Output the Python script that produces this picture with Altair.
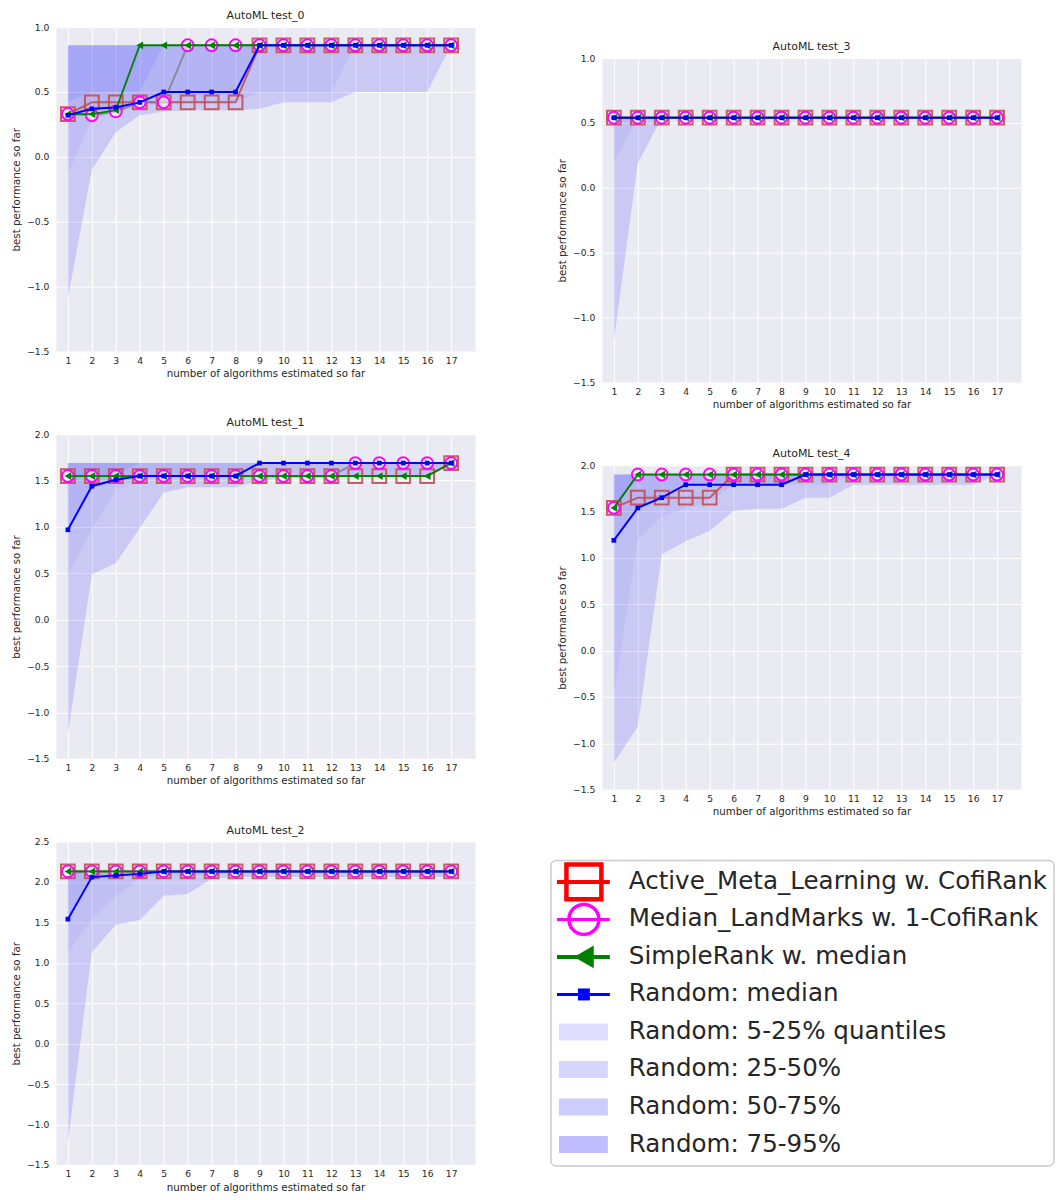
import altair as alt
import pandas as pd

FONT = "DejaVu Sans"

# ---------------- data ----------------
STEPS = [1, 2, 3, 4, 5, 6, 7, 8, 9, 10, 11, 12, 13, 14, 15, 16, 17]

# AutoML test_0
ACTIVE_0 = [0.33, 0.42, 0.42, 0.42, 0.42, 0.42, 0.42, 0.42, 0.86, 0.86, 0.86, 0.86, 0.86, 0.86, 0.86, 0.86, 0.86]
LANDM_0 = [0.33, 0.32, 0.35, 0.42, 0.42, 0.86, 0.86, 0.86, 0.86, 0.86, 0.86, 0.86, 0.86, 0.86, 0.86, 0.86, 0.86]
SIMPLE_0 = [0.33, 0.33, 0.36, 0.86, 0.86, 0.86, 0.86, 0.86, 0.86, 0.86, 0.86, 0.86, 0.86, 0.86, 0.86, 0.86, 0.86]
MEDIAN_0 = [0.32, 0.37, 0.38, 0.42, 0.50, 0.50, 0.50, 0.50, 0.86, 0.86, 0.86, 0.86, 0.86, 0.86, 0.86, 0.86, 0.86]
Q5_0 = [-1.09, -0.10, 0.19, 0.32, 0.35, 0.36, 0.36, 0.36, 0.37, 0.42, 0.42, 0.42, 0.50, 0.50, 0.50, 0.50, 0.86]
Q25_0 = [-0.13, 0.28, 0.35, 0.37, 0.42, 0.42, 0.42, 0.42, 0.50, 0.50, 0.50, 0.50, 0.86, 0.86, 0.86, 0.86, 0.86]
Q75_0 = [0.42, 0.50, 0.50, 0.50, 0.86, 0.86, 0.86, 0.86, 0.86, 0.86, 0.86, 0.86, 0.86, 0.86, 0.86, 0.86, 0.86]
Q95_0 = [0.86, 0.86, 0.86, 0.86, 0.86, 0.86, 0.86, 0.86, 0.86, 0.86, 0.86, 0.86, 0.86, 0.86, 0.86, 0.86, 0.86]

# AutoML test_3
ACTIVE_3 = [0.54, 0.54, 0.54, 0.54, 0.54, 0.54, 0.54, 0.54, 0.54, 0.54, 0.54, 0.54, 0.54, 0.54, 0.54, 0.54, 0.54]
LANDM_3 = [0.54, 0.54, 0.54, 0.54, 0.54, 0.54, 0.54, 0.54, 0.54, 0.54, 0.54, 0.54, 0.54, 0.54, 0.54, 0.54, 0.54]
SIMPLE_3 = [0.54, 0.54, 0.54, 0.54, 0.54, 0.54, 0.54, 0.54, 0.54, 0.54, 0.54, 0.54, 0.54, 0.54, 0.54, 0.54, 0.54]
MEDIAN_3 = [0.54, 0.54, 0.54, 0.54, 0.54, 0.54, 0.54, 0.54, 0.54, 0.54, 0.54, 0.54, 0.54, 0.54, 0.54, 0.54, 0.54]
Q5_3 = [-1.18, 0.19, 0.54, 0.54, 0.54, 0.54, 0.54, 0.54, 0.54, 0.54, 0.54, 0.54, 0.54, 0.54, 0.54, 0.54, 0.54]
Q25_3 = [0.20, 0.54, 0.54, 0.54, 0.54, 0.54, 0.54, 0.54, 0.54, 0.54, 0.54, 0.54, 0.54, 0.54, 0.54, 0.54, 0.54]
Q75_3 = [0.54, 0.54, 0.54, 0.54, 0.54, 0.54, 0.54, 0.54, 0.54, 0.54, 0.54, 0.54, 0.54, 0.54, 0.54, 0.54, 0.54]
Q95_3 = [0.54, 0.54, 0.54, 0.54, 0.54, 0.54, 0.54, 0.54, 0.54, 0.54, 0.54, 0.54, 0.54, 0.54, 0.54, 0.54, 0.54]

# AutoML test_1
ACTIVE_1 = [1.55, 1.55, 1.55, 1.55, 1.55, 1.55, 1.55, 1.55, 1.55, 1.55, 1.55, 1.55, 1.55, 1.55, 1.55, 1.55, 1.69]
LANDM_1 = [1.55, 1.55, 1.55, 1.55, 1.55, 1.55, 1.55, 1.55, 1.55, 1.55, 1.55, 1.55, 1.69, 1.69, 1.69, 1.69, 1.69]
SIMPLE_1 = [1.55, 1.55, 1.55, 1.55, 1.55, 1.55, 1.55, 1.55, 1.55, 1.55, 1.55, 1.55, 1.55, 1.55, 1.55, 1.55, 1.69]
MEDIAN_1 = [0.97, 1.44, 1.51, 1.55, 1.55, 1.55, 1.55, 1.55, 1.69, 1.69, 1.69, 1.69, 1.69, 1.69, 1.69, 1.69, 1.69]
Q5_1 = [-1.23, 0.49, 0.61, 0.99, 1.37, 1.43, 1.43, 1.43, 1.50, 1.53, 1.53, 1.53, 1.55, 1.55, 1.55, 1.55, 1.69]
Q25_1 = [0.49, 0.97, 1.40, 1.52, 1.55, 1.55, 1.55, 1.55, 1.55, 1.55, 1.55, 1.55, 1.55, 1.55, 1.55, 1.55, 1.69]
Q75_1 = [1.55, 1.55, 1.55, 1.69, 1.69, 1.69, 1.69, 1.69, 1.69, 1.69, 1.69, 1.69, 1.69, 1.69, 1.69, 1.69, 1.69]
Q95_1 = [1.69, 1.69, 1.69, 1.69, 1.69, 1.69, 1.69, 1.69, 1.69, 1.69, 1.69, 1.69, 1.69, 1.69, 1.69, 1.69, 1.69]

# AutoML test_4
ACTIVE_4 = [1.54, 1.65, 1.65, 1.65, 1.65, 1.90, 1.90, 1.90, 1.90, 1.90, 1.90, 1.90, 1.90, 1.90, 1.90, 1.90, 1.90]
LANDM_4 = [1.54, 1.90, 1.90, 1.90, 1.90, 1.90, 1.90, 1.90, 1.90, 1.90, 1.90, 1.90, 1.90, 1.90, 1.90, 1.90, 1.90]
SIMPLE_4 = [1.54, 1.90, 1.90, 1.90, 1.90, 1.90, 1.90, 1.90, 1.90, 1.90, 1.90, 1.90, 1.90, 1.90, 1.90, 1.90, 1.90]
MEDIAN_4 = [1.19, 1.54, 1.65, 1.79, 1.79, 1.79, 1.79, 1.79, 1.90, 1.90, 1.90, 1.90, 1.90, 1.90, 1.90, 1.90, 1.90]
Q5_4 = [-1.21, -0.82, 1.04, 1.18, 1.29, 1.51, 1.53, 1.53, 1.65, 1.65, 1.79, 1.79, 1.79, 1.79, 1.79, 1.79, 1.90]
Q25_4 = [-0.50, 1.20, 1.45, 1.53, 1.60, 1.79, 1.79, 1.79, 1.79, 1.79, 1.90, 1.90, 1.90, 1.90, 1.90, 1.90, 1.90]
Q75_4 = [1.54, 1.90, 1.90, 1.90, 1.90, 1.90, 1.90, 1.90, 1.90, 1.90, 1.90, 1.90, 1.90, 1.90, 1.90, 1.90, 1.90]
Q95_4 = [1.90, 1.90, 1.90, 1.90, 1.90, 1.90, 1.90, 1.90, 1.90, 1.90, 1.90, 1.90, 1.90, 1.90, 1.90, 1.90, 1.90]

# AutoML test_2
ACTIVE_2 = [2.13, 2.13, 2.13, 2.13, 2.13, 2.13, 2.13, 2.13, 2.13, 2.13, 2.13, 2.13, 2.13, 2.13, 2.13, 2.13, 2.13]
LANDM_2 = [2.13, 2.13, 2.13, 2.13, 2.13, 2.13, 2.13, 2.13, 2.13, 2.13, 2.13, 2.13, 2.13, 2.13, 2.13, 2.13, 2.13]
SIMPLE_2 = [2.13, 2.13, 2.13, 2.13, 2.13, 2.13, 2.13, 2.13, 2.13, 2.13, 2.13, 2.13, 2.13, 2.13, 2.13, 2.13, 2.13]
MEDIAN_2 = [1.54, 2.06, 2.08, 2.10, 2.13, 2.13, 2.13, 2.13, 2.13, 2.13, 2.13, 2.13, 2.13, 2.13, 2.13, 2.13, 2.13]
Q5_2 = [-1.22, 1.13, 1.47, 1.53, 1.83, 1.85, 2.04, 2.06, 2.06, 2.06, 2.06, 2.06, 2.06, 2.06, 2.06, 2.06, 2.06]
Q25_2 = [1.13, 1.53, 1.82, 2.05, 2.08, 2.08, 2.09, 2.13, 2.13, 2.13, 2.13, 2.13, 2.13, 2.13, 2.13, 2.13, 2.13]
Q75_2 = [2.06, 2.13, 2.13, 2.13, 2.13, 2.13, 2.13, 2.13, 2.13, 2.13, 2.13, 2.13, 2.13, 2.13, 2.13, 2.13, 2.13]
Q95_2 = [2.13, 2.13, 2.13, 2.13, 2.13, 2.13, 2.13, 2.13, 2.13, 2.13, 2.13, 2.13, 2.13, 2.13, 2.13, 2.13, 2.13]

YTICKS_A = [-1.5, -1.0, -0.5, 0.0, 0.5, 1.0]
YTICKS_B = [-1.5, -1.0, -0.5, 0.0, 0.5, 1.0, 1.5, 2.0]
YTICKS_C = [-1.5, -1.0, -0.5, 0.0, 0.5, 1.0, 1.5, 2.0, 2.5]

LEGEND_LABELS = [
    "Active_Meta_Learning w. CofiRank",
    "Median_LandMarks w. 1-CofiRank",
    "SimpleRank w. median",
    "Random: median",
    "Random: 5-25% quantiles",
    "Random: 25-50%",
    "Random: 50-75%",
    "Random: 75-95%",
]

XTITLE = "number of algorithms estimated so far"
YTITLE = "best performance so far"

# ---------------- styles ----------------
RED = "#C44E52"
MAGENTA = "#FF00FF"
GRAYLINE = "#8A8296"
GREEN = "#008000"
BLUE = "#0000FF"
BAND_OPACITY = [0.14, 0.18, 0.23, 0.29]
LEG_BAND_OPACITY = [0.13, 0.16, 0.20, 0.25]
W, H = 420, 325


def panel(title, active, landm, simple, median, q5, q25, q75, q95, ydom, yticks, h=H):
    df = pd.DataFrame({
        "x": STEPS, "active": active, "landm": landm, "simple": simple,
        "median": median, "q5": q5, "q25": q25, "q75": q75, "q95": q95,
    })
    base = alt.Chart(df)
    xs = alt.X("x:Q", scale=alt.Scale(domain=[0.5, 18], nice=False, zero=False),
               axis=alt.Axis(values=STEPS, format="d", title=XTITLE))

    def ys(field):
        return alt.Y(f"{field}:Q", scale=alt.Scale(domain=ydom, nice=False, zero=False),
                     axis=alt.Axis(values=yticks, format=".1f", title=YTITLE))

    layers = []
    bands = [("q5", "q25"), ("q25", "median"), ("median", "q75"), ("q75", "q95")]
    for (lo, hi), op in zip(bands, BAND_OPACITY):
        layers.append(base.mark_area(color=BLUE, opacity=op, interpolate="linear")
                      .encode(x=xs, y=ys(lo), y2=alt.Y2(f"{hi}:Q")))
    layers.append(base.mark_line(color=RED, strokeWidth=2, opacity=0.9).encode(x=xs, y=ys("active")))
    layers.append(base.mark_point(shape="square", size=190, filled=False, color=RED,
                                  strokeWidth=2, opacity=0.9).encode(x=xs, y=ys("active")))
    layers.append(base.mark_line(color=GRAYLINE, strokeWidth=2, opacity=0.9).encode(x=xs, y=ys("landm")))
    layers.append(base.mark_point(shape="circle", size=140, fill="white", fillOpacity=0.55,
                                  stroke=MAGENTA, strokeWidth=2, opacity=1).encode(x=xs, y=ys("landm")))
    layers.append(base.mark_line(color=GREEN, strokeWidth=1.8).encode(x=xs, y=ys("simple")))
    layers.append(base.mark_point(shape="triangle-left", size=60, filled=True, color=GREEN,
                                  opacity=1).encode(x=xs, y=ys("simple")))
    layers.append(base.mark_line(color=BLUE, strokeWidth=2).encode(x=xs, y=ys("median")))
    layers.append(base.mark_point(shape="square", size=22, filled=True, color=BLUE,
                                  opacity=1).encode(x=xs, y=ys("median")))
    return alt.layer(*layers).properties(width=W, height=h, title=title)


def spacer(w, h):
    d = pd.DataFrame({"v": [0]})
    return (alt.Chart(d).mark_point(opacity=0, size=0)
            .encode(x=alt.value(0), y=alt.value(0))
            .properties(width=w, height=h,
                        view=alt.ViewBackground(fill="transparent", stroke="transparent")))


def legend_chart():
    ldf = pd.DataFrame({"label": LEGEND_LABELS})
    yl = alt.Y("label:N", sort=LEGEND_LABELS,
               scale=alt.Scale(type="point", domain=LEGEND_LABELS, padding=0.57), axis=None)
    # legend frame (a decoration, drawn in pixels of the legend view)
    frame = alt.Chart(pd.DataFrame({"f": [0]})).mark_rect(
        fill="white", stroke="#CCCCCC", strokeWidth=1.5, cornerRadius=5
    ).encode(x=alt.value(-51), x2=alt.value(453), y=alt.value(0), y2=alt.value(306))
    line_styles = [
        (LEGEND_LABELS[0], "#FF0000", 4, dict(shape="square", size=1225, filled=False, strokeWidth=4.5)),
        (LEGEND_LABELS[1], MAGENTA, 3, dict(shape="circle", size=900, filled=False, strokeWidth=3.5)),
        (LEGEND_LABELS[2], GREEN, 4, dict(shape="triangle-left", size=520, filled=True)),
        (LEGEND_LABELS[3], BLUE, 3, dict(shape="square", size=144, filled=True)),
    ]
    layers = [frame]
    for lab, col, lw, mk in line_styles:
        lb = alt.Chart(ldf).transform_filter(alt.datum.label == lab)
        layers.append(lb.mark_rule(color=col, strokeWidth=lw)
                      .encode(x=alt.value(-45), x2=alt.value(8), y=yl))
        layers.append(lb.mark_point(color=col, opacity=1, **mk).encode(x=alt.value(-18), y=yl))
    for lab, op in zip(LEGEND_LABELS[4:], LEG_BAND_OPACITY):
        lb = alt.Chart(ldf).transform_filter(alt.datum.label == lab)
        layers.append(lb.mark_rule(color=BLUE, opacity=op, strokeWidth=17, strokeCap="butt")
                      .encode(x=alt.value(-43), x2=alt.value(6), y=yl))
    layers.append(alt.Chart(ldf).mark_text(align="left", baseline="middle", fontSize=24.6,
                                           font=FONT, color="#262626")
                  .encode(x=alt.value(27), y=yl, text="label:N"))
    return alt.layer(*layers).properties(
        width=440, height=306,
        view=alt.ViewBackground(fill="transparent", stroke="transparent"))


t0 = panel("AutoML test_0", ACTIVE_0, LANDM_0, SIMPLE_0, MEDIAN_0, Q5_0, Q25_0, Q75_0, Q95_0, [-1.5, 1.0], YTICKS_A)
t1 = panel("AutoML test_1", ACTIVE_1, LANDM_1, SIMPLE_1, MEDIAN_1, Q5_1, Q25_1, Q75_1, Q95_1, [-1.5, 2.0], YTICKS_B)
t2 = panel("AutoML test_2", ACTIVE_2, LANDM_2, SIMPLE_2, MEDIAN_2, Q5_2, Q25_2, Q75_2, Q95_2, [-1.5, 2.5], YTICKS_C, h=324)
t3 = panel("AutoML test_3", ACTIVE_3, LANDM_3, SIMPLE_3, MEDIAN_3, Q5_3, Q25_3, Q75_3, Q95_3, [-1.5, 1.0], YTICKS_A)
t4 = panel("AutoML test_4", ACTIVE_4, LANDM_4, SIMPLE_4, MEDIAN_4, Q5_4, Q25_4, Q75_4, Q95_4, [-1.5, 2.0], YTICKS_B)

left = alt.vconcat(t0, t1, t2, spacing=83, bounds="flush")
right_inner = alt.vconcat(t3, t4, legend_chart(), spacing=37)
right = alt.vconcat(spacer(1, 12), right_inner, spacing=0)

chart = (
    alt.hconcat(left, right, spacing=73)
    .properties(padding={"left": 3, "top": 0, "right": 0, "bottom": 0})
    .configure_view(fill="#EAEAF2", stroke="transparent")
    .configure_axis(domain=False, ticks=False, grid=True, gridColor="white", gridWidth=1,
                    gridOpacity=1, labelFont=FONT, titleFont=FONT, labelFontSize=9.2,
                    titleFontSize=10.3, labelColor="#262626", titleColor="#262626",
                    titleFontWeight="normal")
    .configure_axisX(labelPadding=5, titlePadding=3)
    .configure_axisY(labelPadding=7, titlePadding=5)
    .configure_title(font=FONT, fontSize=11, fontWeight="normal", color="#262626",
                     offset=2, frame="group")
)

chart.save("out.html", embed_options={"renderer": "svg", "actions": False})
